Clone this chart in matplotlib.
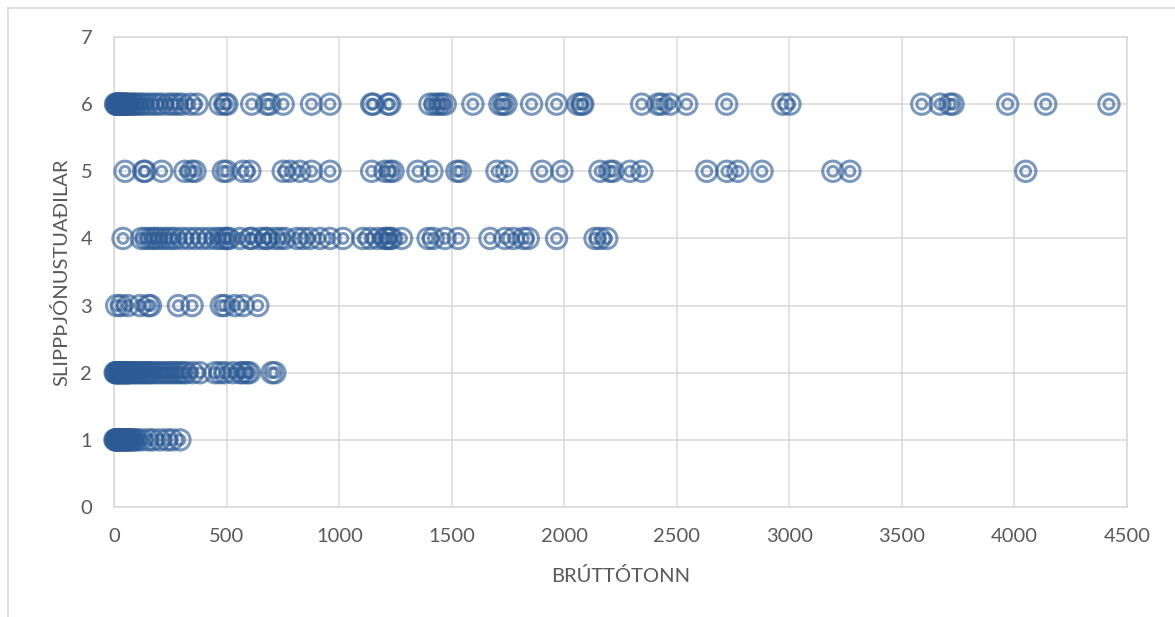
import matplotlib
matplotlib.use("Agg")
import matplotlib.pyplot as plt
from matplotlib.lines import Line2D

# Brúttótonn for each ship, grouped by number of slipp service providers
tonn_6 = [5, 8, 12, 15, 18, 22, 25, 28, 32, 35, 40, 45, 50, 55, 60, 70, 80, 90, 100,
          115, 130, 150, 170, 190, 210, 240, 260, 280, 300, 336, 367, 469, 491, 500,
          610, 677, 691, 750, 876, 958, 1143, 1150, 1216, 1224, 1402, 1424, 1440, 1454,
          1470, 1593, 1713, 1727, 1740, 1854, 1965, 2060, 2076, 2082, 2343, 2416, 2432,
          2469, 2543, 2721, 2971, 3002, 3588, 3669, 3713, 3727, 3970, 4139, 4420]
tonn_5 = [47, 130, 136, 210, 313, 343, 358, 484, 499, 572, 602, 750, 780, 824, 876, 958,
          1143, 1202, 1224, 1238, 1349, 1411, 1522, 1536, 1700, 1744, 1900, 1989, 2158,
          2202, 2216, 2291, 2344, 2633, 2722, 2771, 2878, 3193, 3269, 4050]
tonn_4 = [38, 120, 140, 160, 175, 190, 210, 230, 250, 270, 300, 330, 360, 390, 420, 450,
          470, 490, 500, 510, 558, 602, 609, 647, 673, 678, 713, 736, 758, 811, 838, 869,
          913, 958, 1016, 1104, 1136, 1171, 1202, 1210, 1224, 1232, 1276, 1394, 1417,
          1469, 1528, 1669, 1736, 1773, 1817, 1839, 1965, 2136, 2158, 2188]
tonn_3 = [10, 30, 60, 113, 150, 160, 284, 345, 475, 490, 535, 572, 637]
tonn_2 = [3, 6, 10, 14, 18, 22, 26, 30, 35, 40, 45, 50, 55, 60, 65, 70, 80, 90, 100, 110,
          120, 130, 140, 150, 160, 170, 185, 200, 215, 230, 245, 260, 275, 290, 305, 320,
          349, 380, 447, 469, 491, 527, 560, 571, 589, 600, 700, 713]
tonn_1 = [2, 5, 8, 11, 14, 17, 20, 24, 28, 32, 36, 40, 45, 50, 55, 60, 65, 70, 75, 80,
          90, 100, 121, 150, 171, 202, 233, 256, 291]

groups = {6: tonn_6, 5: tonn_5, 4: tonn_4, 3: tonn_3, 2: tonn_2, 1: tonn_1}

x_ticks = [0, 500, 1000, 1500, 2000, 2500, 3000, 3500, 4000, 4500]
y_ticks = [0, 1, 2, 3, 4, 5, 6, 7]

COLOR = "#2B5A94"
GRAY = "#D9D9D9"
TEXT = "#595959"
FS = 14.5


def plot_chart():
    plt.rcParams['font.family'] = ['Lato', 'DejaVu Sans']
    fig = plt.figure(figsize=(11.75, 6.17), dpi=100)
    ax = fig.add_axes([0.0974, 0.1783, 0.8617, 0.7617])

    xs, ys = [], []
    for n, vals in groups.items():
        xs += vals
        ys += [n] * len(vals)

    # double ring marker: outer + inner hollow circle
    ax.scatter(xs, ys, s=215, facecolors="none", edgecolors=COLOR,
               linewidths=2.2, alpha=0.62, zorder=3, clip_on=False)
    ax.scatter(xs, ys, s=50, facecolors="none", edgecolors=COLOR,
               linewidths=2.2, alpha=0.62, zorder=3, clip_on=False)

    ax.set_xlim(0, 4500)
    ax.set_ylim(0, 7)
    ax.set_xticks(x_ticks)
    ax.set_yticks(y_ticks)
    ax.grid(True, color=GRAY, linewidth=1.1, zorder=0)
    ax.set_axisbelow(True)
    for sp in ax.spines.values():
        sp.set_color(GRAY)
        sp.set_linewidth(1.1)
    ax.tick_params(length=0, labelsize=FS, colors=TEXT)
    ax.tick_params(axis='x', pad=15)
    ax.tick_params(axis='y', pad=16)

    ax.set_xlabel("BRÚTTÓTONN", fontsize=FS, color=TEXT)
    ax.set_ylabel("SLIPPÞJÓNUSTUAÐILAR", fontsize=FS, color=TEXT)
    ax.xaxis.set_label_coords(0.5, -0.128)
    ax.yaxis.set_label_coords(-0.044, 0.5)

    # chart area border
    fig.add_artist(Line2D([8 / 1175, 8 / 1175], [0, 1 - 8 / 617], color=GRAY, lw=1.2))
    fig.add_artist(Line2D([8 / 1175, 1], [1 - 8 / 617, 1 - 8 / 617], color=GRAY, lw=1.2))

    fig.savefig("out.png", dpi=100)


if __name__ == "__main__":
    plot_chart()
